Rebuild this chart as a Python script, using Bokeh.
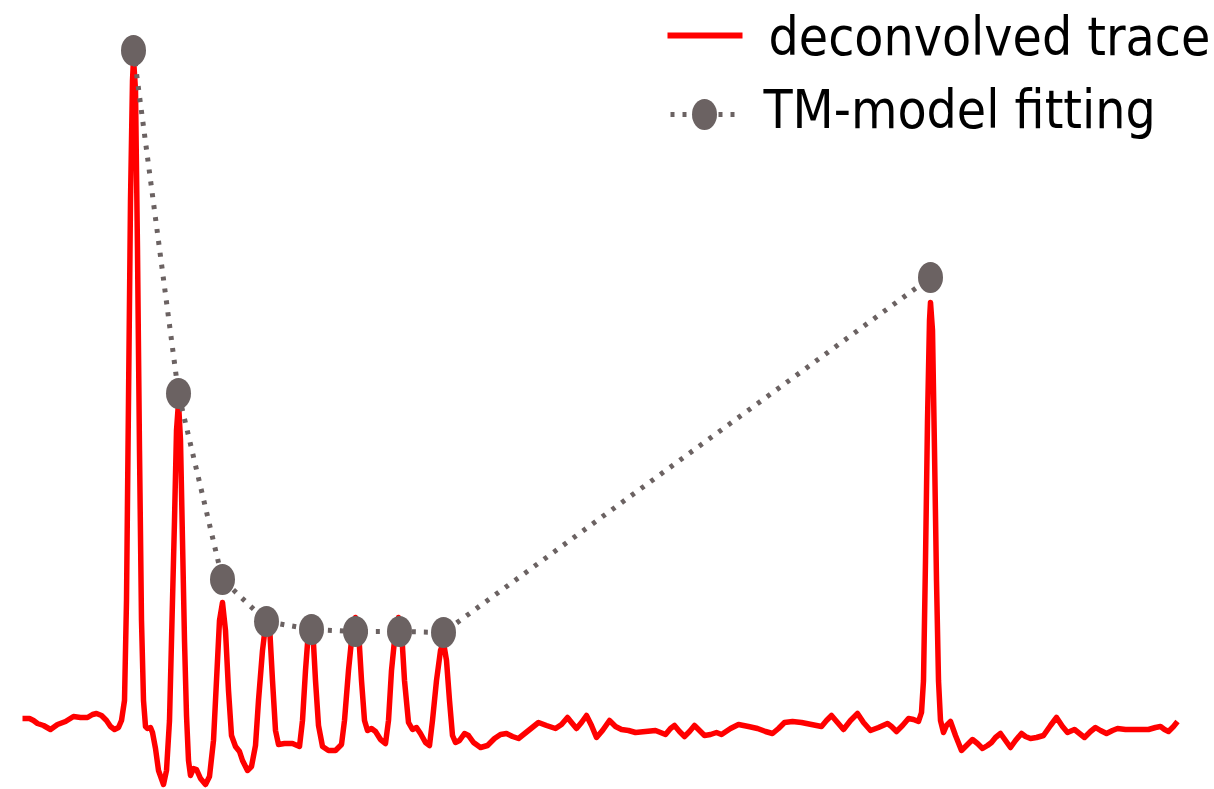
from bokeh.plotting import figure
from bokeh.models import Range1d
from bokeh.core.properties import value
from bokeh.embed import file_html
from bokeh.resources import INLINE

# ---- data (time in frames, signal in arbitrary units; baseline = 0) ----
trace_t = [22, 29, 33, 37, 43, 50, 57, 65, 73, 80, 87, 92, 96, 101, 106, 110, 114, 118, 121,
           124, 126, 128, 130, 132, 133, 135, 137, 139, 141, 143, 145, 147, 150, 152, 155, 158,
           163, 166, 169, 171, 174, 176, 178, 180, 182, 184, 186, 188, 190, 193, 196, 200, 205,
           209, 213, 216, 219, 222, 225, 228, 231, 235, 239, 242, 247, 251, 255, 258, 262, 265,
           267, 269, 272, 275, 278, 284, 292, 299, 302, 305, 308, 310, 312, 315, 318, 322, 328,
           335, 341, 344, 348, 352, 355, 358, 361, 364, 367, 371, 375, 380, 385, 388, 391, 395,
           398, 401, 404, 408, 412, 416, 420, 425, 429, 432, 436, 440, 443, 446, 449, 452, 455,
           459, 464, 468, 473, 480, 487, 494, 500, 506, 512, 518, 528, 538, 546, 555, 561, 567,
           571, 576, 581, 586, 591, 596, 602, 609, 615, 621, 628, 635, 645, 655, 660, 665, 670,
           674, 679, 684, 689, 694, 699, 704, 710, 716, 721, 730, 738, 748, 757, 765, 772, 778,
           784, 792, 801, 811, 821, 826, 831, 837, 843, 850, 857, 863, 870, 878, 887, 891, 896,
           902, 908, 913, 918, 921, 923, 925, 927, 929, 930, 932, 934, 936, 938, 940, 943, 946,
           950, 955, 961, 966, 972, 977, 982, 987, 991, 995, 1000, 1005, 1010, 1015, 1021, 1025,
           1030, 1036, 1043, 1050, 1056, 1062, 1067, 1074, 1079, 1084, 1090, 1095, 1100, 1106,
           1112, 1117, 1125, 1133, 1140, 1148, 1155, 1160, 1164, 1168, 1173, 1177]
trace_px = [718, 718, 720, 723, 725, 729, 724, 721, 716, 717, 717, 714, 713, 715, 720, 726, 729, 727, 720,
            700, 600, 400, 200, 80, 58, 90, 250, 450, 620, 700, 726, 728, 727, 732, 748, 770,
            784, 770, 720, 640, 520, 430, 402, 440, 540, 640, 715, 760, 775, 768, 769, 778, 784,
            776, 740, 680, 620, 602, 630, 690, 735, 746, 751, 760, 770, 766, 745, 700, 650, 625,
            620, 625, 680, 730, 744, 743, 743, 746, 720, 670, 630, 617, 625, 680, 725, 746, 750,
            750, 744, 720, 670, 630, 617, 630, 680, 720, 730, 728, 731, 739, 743, 720, 670, 630,
            617, 630, 680, 722, 729, 727, 733, 742, 745, 720, 680, 650, 642, 660, 700, 735, 742,
            740, 733, 735, 742, 747, 745, 738, 734, 733, 736, 738, 730, 722, 725, 728, 724, 717,
            722, 728, 722, 715, 725, 737, 730, 720, 726, 729, 730, 732, 731, 730, 732, 734, 728,
            725, 731, 736, 731, 725, 730, 735, 734, 732, 734, 728, 724, 726, 728, 731, 733, 728,
            722, 721, 722, 724, 726, 720, 715, 722, 729, 720, 713, 722, 730, 727, 723, 726, 731,
            725, 718, 719, 721, 712, 680, 560, 420, 320, 302, 330, 450, 580, 680, 720, 732, 725,
            721, 735, 750, 745, 739, 743, 748, 745, 742, 737, 733, 740, 747, 740, 733, 736,
            738, 737, 735, 725, 717, 726, 732, 729, 733, 737, 731, 727, 730, 733,
            730, 728, 729, 729, 729, 729, 727, 726, 729, 731, 726, 721]
trace_signal = [720 - v for v in trace_px]

fit_t = [133, 178, 222, 266, 311, 355, 399, 443, 930]
fit_signal = [670, 327, 141, 99, 91, 89, 89, 88, 443]

labels = ["deconvolved trace", "TM-model fitting"]

RED = "#ff0000"
GREY = "#6b6262"

p = figure(width=1214, height=789, output_backend="svg", toolbar_location=None,
           x_axis_type=None, y_axis_type=None, min_border=0,
           x_range=Range1d(0, 1214), y_range=Range1d(-69, 720))
p.grid.visible = False
p.outline_line_color = None
p.background_fill_color = "white"
p.border_fill_color = "white"

p.line(trace_t, trace_signal, line_color=RED, line_width=5.5, line_join="round")
p.line(fit_t, fit_signal, line_color=GREY, line_width=5, line_dash="4 8")
p.ellipse(fit_t, fit_signal, width=25, height=31, fill_color=GREY, line_color=None)

# ---- legend (drawn by hand) ----
leg_x0, leg_x1 = 667, 742
row_y = [720 - 35, 720 - 114]
p.line([leg_x0, leg_x1], [row_y[0], row_y[0]], line_color=RED, line_width=6)
p.line([leg_x0 + 3, leg_x1], [row_y[1], row_y[1]], line_color=GREY, line_width=5, line_dash="4 8")
p.ellipse([704], [row_y[1]], width=25, height=31, fill_color=GREY, line_color=None)
p.text([768, 763], [720 - 36, 720 - 109], text=labels,
       text_font=value("DejaVu Sans Condensed, DejaVu Sans"), text_font_size="53px",
       text_color="black", text_baseline="alphabetic", text_align="left")

open("out.html", "w").write(file_html(p, INLINE))
